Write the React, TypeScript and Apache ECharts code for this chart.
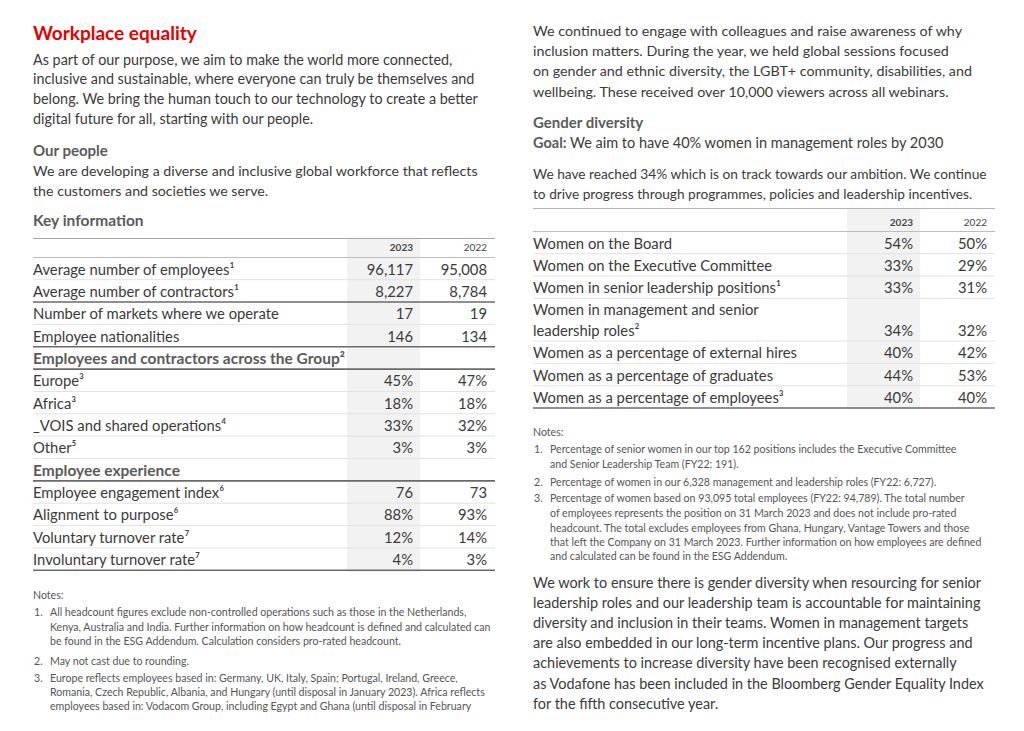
import React, { useEffect, useRef } from "react";
import * as echarts from "echarts";

// ---------- content ----------
const pageTitle = "Workplace equality";
const introLines = [
  "As part of our purpose, we aim to make the world more connected,",
  "inclusive and sustainable, where everyone can truly be themselves and",
  "belong. We bring the human touch to our technology to create a better",
  "digital future for all, starting with our people.",
];
const peopleHeading = "Our people";
const peopleLines = [
  "We are developing a diverse and inclusive global workforce that reflects",
  "the customers and societies we serve.",
];
const keyHeading = "Key information";
const yearHeaders = ["2023", "2022"];

const keyLabels = [
  "Average number of employees¹",
  "Average number of contractors¹",
  "Number of markets where we operate",
  "Employee nationalities",
];
const key2023 = ["96,117", "8,227", "17", "146"];
const key2022 = ["95,008", "8,784", "19", "134"];

const regionHeading = "Employees and contractors across the Group²";
const regionLabels = ["Europe³", "Africa³", "_VOIS and shared operations⁴", "Other⁵"];
const region2023 = ["45%", "18%", "33%", "3%"];
const region2022 = ["47%", "18%", "32%", "3%"];

const expHeading = "Employee experience";
const expLabels = [
  "Employee engagement index⁶",
  "Alignment to purpose⁶",
  "Voluntary turnover rate⁷",
  "Involuntary turnover rate⁷",
];
const exp2023 = ["76", "88%", "12%", "4%"];
const exp2022 = ["73", "93%", "14%", "3%"];

const leftNotes = [
  ["All headcount figures exclude non-controlled operations such as those in the Netherlands,",
   "Kenya, Australia and India. Further information on how headcount is defined and calculated can",
   "be found in the ESG Addendum. Calculation considers pro-rated headcount."],
  ["May not cast due to rounding."],
  ["Europe reflects employees based in: Germany, UK, Italy, Spain; Portugal, Ireland, Greece,",
   "Romania, Czech Republic, Albania, and Hungary (until disposal in January 2023). Africa reflects",
   "employees based in: Vodacom Group, including Egypt and Ghana (until disposal in February"],
];

const rightIntroLines = [
  "We continued to engage with colleagues and raise awareness of why",
  "inclusion matters. During the year, we held global sessions focused",
  "on gender and ethnic diversity, the LGBT+ community, disabilities, and",
  "wellbeing. These received over 10,000 viewers across all webinars.",
];
const genderHeading = "Gender diversity";
const goalLabel = "Goal:";
const goalText = " We aim to have 40% women in management roles by 2030";
const reachedLines = [
  "We have reached 34% which is on track towards our ambition. We continue",
  "to drive progress through programmes, policies and leadership incentives.",
];
const genderLabels = [
  "Women on the Board",
  "Women on the Executive Committee",
  "Women in senior leadership positions¹",
  "Women in management and senior\nleadership roles²",
  "Women as a percentage of external hires",
  "Women as a percentage of graduates",
  "Women as a percentage of employees³",
];
const gender2023 = ["54%", "33%", "33%", "34%", "40%", "44%", "40%"];
const gender2022 = ["50%", "29%", "31%", "32%", "42%", "53%", "40%"];

const rightNotes = [
  ["Percentage of senior women in our top 162 positions includes the Executive Committee",
   "and Senior Leadership Team (FY22: 191)."],
  ["Percentage of women in our 6,328 management and leadership roles (FY22: 6,727)."],
  ["Percentage of women based on 93,095 total employees (FY22: 94,789). The total number",
   "of employees represents the position on 31 March 2023 and does not include pro-rated",
   "headcount. The total excludes employees from Ghana, Hungary, Vantage Towers and those",
   "that left the Company on 31 March 2023. Further information on how employees are defined",
   "and calculated can be found in the ESG Addendum."],
];
const closingLines = [
  "We work to ensure there is gender diversity when resourcing for senior",
  "leadership roles and our leadership team is accountable for maintaining",
  "diversity and inclusion in their teams. Women in management targets",
  "are also embedded in our long-term incentive plans. Our progress and",
  "achievements to increase diversity have been recognised externally",
  "as Vodafone has been included in the Bloomberg Gender Equality Index",
  "for the fifth consecutive year.",
];

// ---------- styling ----------
const FONT = "Lato, 'Open Sans', sans-serif";
const RED = "#e60000";
const BODY = "#3a3a3a";
const HEAD = "#5a5a5a";
const NOTE = "#555555";
const SHADE = "#f2f2f2";
const LIGHT = "#e2e2e2";
const DARK = "#6a6a6a";
const TABLE_SIZE = 14.8;
const NOTE_SIZE = 10.6;

function txt(x: number, y: number, text: string, o: any = {}) {
  const align = o.align || "left";
  return {
    type: "text",
    x,
    y,
    silent: true,
    style: {
      text,
      fill: o.color || BODY,
      fontFamily: FONT,
      fontSize: o.size || 15,
      fontWeight: o.weight || "normal",
      align,
      verticalAlign: "middle",
      textAlign: align,
      textVerticalAlign: "middle",
      lineHeight: o.lineHeight,
      rich: o.rich,
    },
  };
}
function hline(x1: number, x2: number, y: number, color: string, w = 1) {
  return {
    type: "line",
    silent: true,
    shape: { x1, y1: y, x2, y2: y },
    style: { stroke: color, lineWidth: w },
  };
}

function buildGraphics() {
  const g: any[] = [];
  // ---------- LEFT COLUMN ----------
  const L = 33;
  const LR = 495;
  g.push(txt(L, 32, pageTitle, { color: RED, size: 19, weight: "bold" }));
  introLines.forEach((s, i) => g.push(txt(L, 59 + i * 19.7, s, { size: 14.35 })));
  g.push(txt(L, 150, peopleHeading, { color: HEAD, size: 15, weight: "bold" }));
  peopleLines.forEach((s, i) => g.push(txt(L, 170 + i * 20.5, s, { size: 14.2 })));
  g.push(txt(L, 220, keyHeading, { color: HEAD, size: 15.5, weight: "bold" }));

  // shaded 2023 column
  g.push({ type: "rect", silent: true, shape: { x: 347, y: 238, width: 73, height: 334 }, style: { fill: SHADE } });
  g.push(hline(L, LR, 238.5, "#a8a8a8", 1));
  g.push(txt(413, 247, yearHeaders[0], { size: 10, weight: "bold", align: "right", color: "#444" }));
  g.push(txt(487, 247, yearHeaders[1], { size: 10, align: "right", color: "#444" }));
  g.push(hline(L, LR, 257.5, "#bdbdbd", 1));

  const rowH = 22.35;
  let y = 268.5;
  const rowsOut = (labels: string[], a: string[], b: string[], seps: string[]) => {
    labels.forEach((lab, i) => {
      g.push(txt(L, y, lab, { size: TABLE_SIZE }));
      g.push(txt(413, y, a[i], { size: TABLE_SIZE, align: "right" }));
      g.push(txt(487, y, b[i], { size: TABLE_SIZE, align: "right" }));
      const sep = seps[i];
      g.push(hline(L, LR, y + 11.2, sep === "d" ? DARK : LIGHT, sep === "d" ? 1.6 : 1));
      y += rowH;
    });
  };
  rowsOut(keyLabels, key2023, key2022, ["l", "d", "l", "d"]);
  g.push(txt(L, y, regionHeading, { size: 15.5, weight: "bold", color: HEAD }));
  g.push(hline(L, LR, y + 11.2, DARK, 1.6));
  y += rowH;
  rowsOut(regionLabels, region2023, region2022, ["l", "l", "l", "l"]);
  g.push(txt(L, y, expHeading, { size: 15.5, weight: "bold", color: HEAD }));
  g.push(hline(L, LR, y + 11.2, DARK, 1.6));
  y += rowH;
  rowsOut(expLabels, exp2023, exp2022, ["l", "l", "l", "d"]);

  // left notes
  g.push(txt(L, 595, "Notes:", { size: NOTE_SIZE, color: NOTE }));
  const leftNoteY = [[612, 627, 641], [661], [678, 692, 706]];
  leftNotes.forEach((lines, k) => {
    g.push(txt(L + 1, leftNoteY[k][0], `${k + 1}.`, { size: NOTE_SIZE, color: NOTE }));
    lines.forEach((s, j) => g.push(txt(L + 17, leftNoteY[k][j], s, { size: NOTE_SIZE, color: NOTE })));
  });

  // ---------- RIGHT COLUMN ----------
  const R = 533;
  const RR = 995;
  rightIntroLines.forEach((s, i) => g.push(txt(R, 30 + i * 20.4, s, { size: 14.3 })));
  g.push(txt(R, 122, genderHeading, { color: HEAD, size: 15, weight: "bold" }));
  g.push(
    txt(R, 142, `{b|${goalLabel}}${goalText}`, {
      size: 14.5,
      rich: { b: { fontFamily: FONT, fontSize: 14.5, fontWeight: "bold", fill: HEAD, color: HEAD } },
    })
  );
  reachedLines.forEach((s, i) => g.push(txt(R, 173 + i * 20.2, s, { size: 13.7 })));

  g.push({ type: "rect", silent: true, shape: { x: 847, y: 208, width: 73, height: 201 }, style: { fill: SHADE } });
  g.push(hline(R, RR, 208.5, "#b5b5b5", 1.2));
  g.push(txt(913, 222, yearHeaders[0], { size: 10, weight: "bold", align: "right", color: "#444" }));
  g.push(txt(987, 222, yearHeaders[1], { size: 10, align: "right", color: "#444" }));
  g.push(hline(R, RR, 231.5, "#bdbdbd", 1));

  let gy = 242.5;
  genderLabels.forEach((lab, i) => {
    const lines = lab.split("\n");
    if (lines.length === 1) {
      g.push(txt(R, gy, lab, { size: TABLE_SIZE }));
    } else {
      lines.forEach((s, j) => g.push(txt(R, gy + j * 20.5, s, { size: TABLE_SIZE })));
      gy += 20.5;
    }
    g.push(txt(913, gy, gender2023[i], { size: TABLE_SIZE, align: "right" }));
    g.push(txt(987, gy, gender2022[i], { size: TABLE_SIZE, align: "right" }));
    const last = i === genderLabels.length - 1;
    g.push(hline(R, RR, gy + 11.2, last ? DARK : LIGHT, last ? 1.6 : 1));
    gy += 22.3;
  });

  g.push(txt(R, 432, "Notes:", { size: NOTE_SIZE, color: NOTE }));
  const rightNoteY = [[449, 464], [482], [498, 513, 528, 542, 556]];
  rightNotes.forEach((lines, k) => {
    g.push(txt(R + 1, rightNoteY[k][0], `${k + 1}.`, { size: NOTE_SIZE, color: NOTE }));
    lines.forEach((s, j) => g.push(txt(R + 17, rightNoteY[k][j], s, { size: NOTE_SIZE, color: NOTE })));
  });

  closingLines.forEach((s, i) => g.push(txt(R, 582 + i * 20.2, s, { size: 14.45 })));
  return g;
}

export default function App() {
  const ref = useRef<HTMLDivElement>(null);
  useEffect(() => {
    document.body.style.margin = "0";
    const chart = echarts.init(ref.current!, undefined, { renderer: "svg" });
    chart.setOption({
      animation: false,
      backgroundColor: "#ffffff",
      graphic: { elements: buildGraphics() },
    });
    return () => chart.dispose();
  }, []);
  return (
    <div
      ref={ref}
      style={{ position: "absolute", left: 0, top: 0, width: 1024, height: 731, background: "#fff" }}
    />
  );
}
